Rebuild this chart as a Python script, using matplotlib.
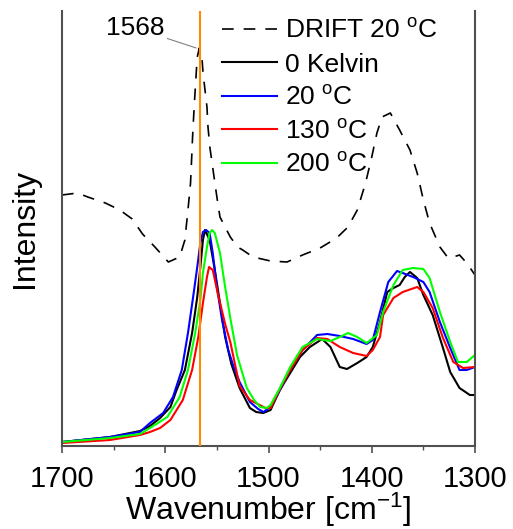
import matplotlib
matplotlib.use('Agg')
import matplotlib.pyplot as plt
from matplotlib.ticker import MultipleLocator

plt.rcParams['font.family'] = ['Liberation Sans', 'DejaVu Sans']
plt.rcParams['mathtext.fontset'] = 'custom'
plt.rcParams['mathtext.rm'] = 'Liberation Sans'
plt.rcParams['mathtext.default'] = 'regular'

# DRIFT 20 C spectrum (arbitrary units)
drift_wn = [1700, 1685, 1675, 1658, 1644, 1632, 1622, 1610, 1597, 1586, 1581, 1578,
            1575.5, 1574.5, 1573.5, 1572, 1571, 1570, 1569, 1567, 1564.5, 1563.4, 1561.5,
            1559.6, 1558.6, 1556.7, 1550, 1547, 1537, 1530,
            1525, 1515, 1498, 1482, 1467, 1450, 1434, 1423, 1414, 1406, 1400, 1395,
            1390, 1382, 1373, 1363, 1356, 1350, 1344, 1334, 1326, 1321, 1315, 1308,
            1302, 1300]
drift_int = [251, 253, 249, 243, 236, 227, 212, 199, 184, 189, 206, 236,
             263, 286, 310, 339, 356, 373, 389, 398, 389, 373, 356,
             339, 319, 298, 249, 229, 209, 199,
             196, 189, 185, 184, 191, 198, 208, 219, 236, 263, 289, 313,
             329, 333, 316, 296, 273, 246, 223, 199, 188, 189, 191, 183,
             174, 171]

# calculated spectra
k0_wn = [1700, 1653.5, 1624.5, 1614.8, 1605, 1595, 1589, 1581, 1574, 1569, 1566, 1563.5,
         1561.5, 1557, 1552, 1547, 1542, 1536, 1528, 1518, 1512, 1505, 1498, 1489,
         1479, 1469.5, 1460, 1448, 1440, 1431, 1424, 1414, 1405, 1399, 1392, 1385,
         1379, 1373, 1368, 1363, 1356, 1350, 1341, 1331, 1324, 1315, 1305, 1300]
k0_int = [4, 9, 15, 20, 28, 39, 56, 76, 113, 149, 179, 206,
          216, 206, 176, 143, 109, 82, 58, 38, 34, 33, 36, 56,
          73, 89, 99, 107, 99, 79, 77, 83, 89, 99, 124, 154,
          158, 161, 169, 174, 168, 151, 131, 98, 74, 58, 51, 51]

c20_wn = [1700, 1653.5, 1624.5, 1614.8, 1602, 1592.5, 1584, 1578, 1573, 1569, 1566, 1563.5,
          1560.5, 1557, 1554, 1550, 1545, 1539, 1534, 1528, 1518, 1510, 1505, 1498,
          1489, 1479, 1467, 1453, 1443, 1431, 1418, 1405, 1399, 1392, 1384, 1375.5,
          1370, 1360, 1350, 1344, 1334, 1324, 1315, 1308, 1300]
c20_int = [4, 9, 14, 23, 33, 49, 76, 113, 149, 179, 203, 214,
           216, 213, 193, 159, 126, 96, 80, 64, 44, 37, 34, 39,
           56, 76, 96, 111, 112, 110, 107, 102, 106, 134, 164, 175,
           173, 169, 164, 154, 124, 98, 76, 76, 79]

c130_wn = [1700, 1653.5, 1624.5, 1614.8, 1605, 1595, 1583, 1574, 1568, 1563.5, 1559.6, 1557.6,
           1554, 1549, 1542, 1537, 1528, 1518, 1503, 1498, 1489, 1479, 1467, 1453,
           1443, 1431, 1418, 1405, 1399, 1392, 1389, 1379, 1370, 1356, 1350, 1341,
           1331, 1321, 1311.6, 1300]
c130_int = [3, 6, 11, 14, 18, 26, 46, 76, 109, 143, 169, 179,
            176, 152, 122, 104, 60, 46, 38, 38, 57, 76, 96, 108,
            107, 99, 93, 90, 96, 109, 131, 148, 154, 159, 154, 138,
            108, 84, 78, 79]

c200_wn = [1700, 1653.5, 1624.5, 1614.8, 1598, 1586, 1578, 1571, 1566, 1563.5, 1559.6, 1557,
           1554.7, 1552, 1547, 1542, 1537, 1530.5, 1521, 1514, 1508, 1501.5, 1498, 1489,
           1479, 1467, 1453, 1440, 1431, 1423, 1414, 1405, 1395, 1389, 1379, 1370,
           1360, 1350, 1344, 1334, 1324, 1316.5, 1308, 1300]
c200_int = [4, 8, 12, 18, 29, 49, 76, 113, 146, 173, 199, 213,
            216, 213, 193, 159, 128, 91, 58, 46, 39, 38, 41, 58,
            79, 99, 107, 105, 109, 113, 109, 103, 111, 134, 161, 176,
            178, 177, 168, 134, 104, 84, 84, 91]

peak_pos = 1566
peak_label = '1568'

fig = plt.figure(figsize=(5.13, 5.29), dpi=100)
ax = fig.add_axes([62 / 513, 1 - 446 / 529, 413 / 513, 435 / 529])

ax.plot(drift_wn, drift_int, color='black', lw=1.2, linestyle=(0, (7, 6)),
        label='DRIFT 20 $^{o}$C')
ax.plot(k0_wn, k0_int, color='black', lw=1.5, label='0 Kelvin')
ax.plot(c20_wn, c20_int, color='#0000FF', lw=1.5, label='20 $^{o}$C')
ax.plot(c130_wn, c130_int, color='#FF0000', lw=1.5, label='130 $^{o}$C')
ax.plot(c200_wn, c200_int, color='#00FF00', lw=1.5, label='200 $^{o}$C')
ax.axvline(peak_pos, color='#FF8C00', lw=1.5, zorder=5)

ax.annotate(peak_label, xy=(1570, 398), xytext=(1629, 418), fontsize=19,
            ha='center', va='center',
            arrowprops=dict(arrowstyle='-', color='gray', lw=0.8,
                            relpos=(1.0, 0.1), shrinkA=0, shrinkB=0))

ax.set_xlim(1700, 1300)
ax.set_ylim(0, 435)
ax.xaxis.set_major_locator(MultipleLocator(100))
ax.xaxis.set_minor_locator(MultipleLocator(50))
ax.set_yticks([])
ax.tick_params(axis='x', which='major', direction='out', length=5, width=1.2,
               color='#505050', labelsize=21, pad=9)
ax.tick_params(axis='x', which='minor', direction='out', length=3, width=1.0,
               color='#505050')

ax.spines['top'].set_visible(False)
for s in ['left', 'right', 'bottom']:
    ax.spines[s].set_color('#505050')
    ax.spines[s].set_linewidth(1.5)

ax.set_xlabel('Wavenumber [cm$^{-1}$]', fontsize=23, labelpad=-2)
ax.set_ylabel('Intensity', fontsize=23, labelpad=16)

ax.legend(loc='upper left', bbox_to_anchor=(222 / 513, 1 - 19 / 529),
          bbox_transform=fig.transFigure, frameon=False, fontsize=19,
          handlelength=2.1, handletextpad=0.3, labelspacing=0.36,
          borderpad=0, borderaxespad=0)

fig.savefig('out.png', dpi=100)
